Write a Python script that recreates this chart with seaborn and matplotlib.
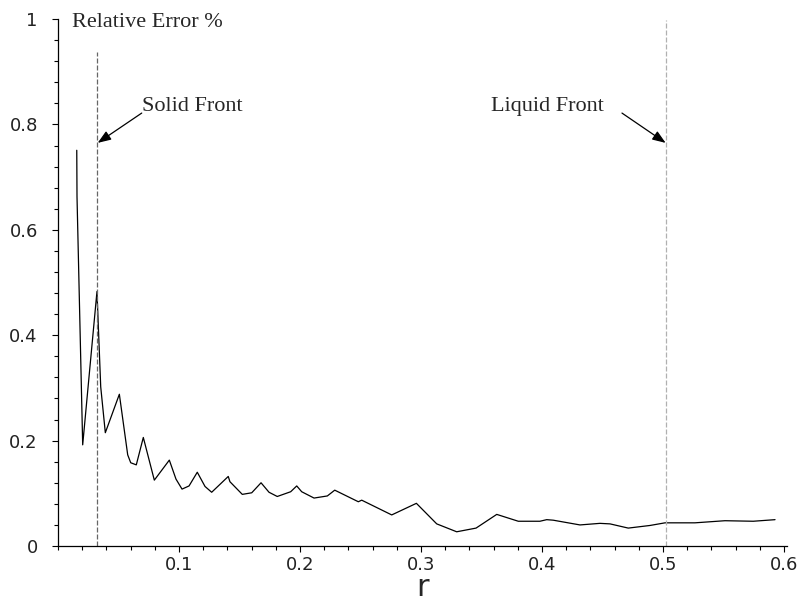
import matplotlib
matplotlib.use("Agg")
import matplotlib.pyplot as plt
import seaborn as sns
import pandas as pd
from matplotlib.ticker import MultipleLocator

# values
r_vals = [0.0155, 0.0157, 0.0204, 0.0322, 0.0353, 0.0391, 0.0507, 0.0576, 0.0601,
          0.0647, 0.0705, 0.0796, 0.0920, 0.0975, 0.1025, 0.1083, 0.1151, 0.1215,
          0.1270, 0.1407, 0.1421, 0.1523, 0.1601, 0.1678, 0.1744, 0.1812, 0.1923,
          0.1973, 0.2014, 0.2116, 0.2226, 0.2287, 0.2482, 0.2510, 0.2758, 0.2962,
          0.3130, 0.3295, 0.3455, 0.3626, 0.3804, 0.3983, 0.4039, 0.4093, 0.4314,
          0.4479, 0.4562, 0.4713, 0.4893, 0.5017, 0.5264, 0.5512, 0.5746, 0.5926]
rel_error = [0.751, 0.663, 0.192, 0.483, 0.302, 0.215, 0.288, 0.173, 0.158,
             0.154, 0.206, 0.125, 0.163, 0.127, 0.108, 0.114, 0.140, 0.113,
             0.102, 0.132, 0.122, 0.098, 0.101, 0.120, 0.102, 0.094, 0.103,
             0.114, 0.103, 0.091, 0.095, 0.106, 0.084, 0.087, 0.059, 0.081,
             0.042, 0.027, 0.034, 0.060, 0.047, 0.047, 0.050, 0.049, 0.040,
             0.043, 0.042, 0.034, 0.039, 0.044, 0.044, 0.048, 0.047, 0.050]

solid_front = 0.0322
liquid_front = 0.5022
x_ticks = [0.1, 0.2, 0.3, 0.4, 0.5, 0.6]
x_tick_labels = ["0.1", "0.2", "0.3", "0.4", "0.5", "0.6"]
y_ticks = [0, 0.2, 0.4, 0.6, 0.8, 1.0]
y_tick_labels = ["0", "0.2", "0.4", "0.6", "0.8", "1"]

df = pd.DataFrame({"r": r_vals, "err": rel_error})

sns.set_style("ticks")
fig = plt.figure(figsize=(7.99, 6.05), dpi=100)
ax = fig.add_axes([0.0726, 0.0975, 0.9124, 0.871])

sns.lineplot(data=df, x="r", y="err", ax=ax, color="black", linewidth=0.9,
             estimator=None, sort=False)

# front markers
ax.plot([solid_front, solid_front], [0, 0.937], color="#666666", lw=0.9,
        linestyle=(0, (4, 1.6)))
ax.plot([liquid_front, liquid_front], [0, 0.998], color="#b0b0b0", lw=0.9,
        linestyle=(0, (4, 1.6)))

serif = ["Liberation Serif", "DejaVu Serif"]
ax.text(0.0115, 0.993, "Relative Error %", fontsize=16, family=serif,
        ha="left", va="center")
ax.text(0.0692, 0.825, "Solid Front", fontsize=16, family=serif,
        ha="left", va="baseline")
ax.text(0.4512, 0.825, "Liquid Front", fontsize=16, family=serif,
        ha="right", va="baseline")
arrow = dict(arrowstyle="-|>,head_length=0.8,head_width=0.3", color="black",
             lw=0.9, shrinkA=0, shrinkB=0)
ax.annotate("", xy=(solid_front + 0.0006, 0.765), xytext=(0.0692, 0.8216),
            arrowprops=arrow)
ax.annotate("", xy=(liquid_front, 0.765), xytext=(0.4661, 0.8216),
            arrowprops=arrow)

ax.set_xlim(0, 0.6025)
ax.set_ylim(0, 1)
ax.set_xticks(x_ticks)
ax.set_xticklabels(x_tick_labels)
ax.set_yticks(y_ticks)
ax.set_yticklabels(y_tick_labels)
ax.xaxis.set_minor_locator(MultipleLocator(0.02))
ax.yaxis.set_minor_locator(MultipleLocator(0.04))
ax.tick_params(which="major", length=4.5, width=0.8, labelsize=13, color="black")
ax.tick_params(which="minor", length=3, width=0.8, color="black")
ax.tick_params(axis="x", pad=3)
ax.tick_params(axis="y", pad=10)
for lab in ax.get_xticklabels() + ax.get_yticklabels():
    lab.set_color("#222222")

ax.set_xlabel("r", fontsize=22, labelpad=-1)
ax.set_ylabel("")
sns.despine(ax=ax)
for s in ["left", "bottom"]:
    ax.spines[s].set_linewidth(0.9)
    ax.spines[s].set_color("black")

fig.savefig("out.png", dpi=100)
